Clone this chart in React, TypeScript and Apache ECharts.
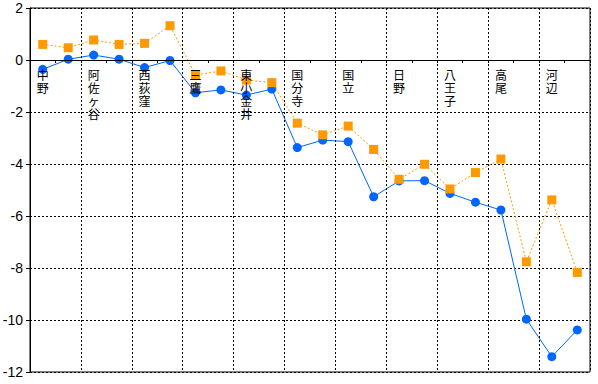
import React, { useEffect, useRef } from "react";
import * as echarts from "echarts";

const categories = [
  "中野", "", "阿佐ヶ谷", "", "西荻窪", "", "三鷹", "", "東小金井", "", "国分寺",
  "", "国立", "", "日野", "", "八王子", "", "高尾", "", "河辺", "",
];
const blueValues = [
  -0.36, 0.03, 0.19, 0.03, -0.29, -0.02, -1.26, -1.15, -1.35, -1.12, -3.37,
  -3.08, -3.14, -5.26, -4.65, -4.64, -5.13, -5.47, -5.77, -9.97, -11.41, -10.38,
];
const orangeValues = [
  0.6, 0.47, 0.77, 0.6, 0.64, 1.32, -0.58, -0.42, -0.77, -0.87, -2.43,
  -2.88, -2.54, -3.44, -4.59, -4.01, -4.96, -4.33, -3.81, -7.76, -5.38, -8.17,
];
const yMin = -12;
const yMax = 2;
const yStep = 2;

const GRID_TOP = 8;
const GRID_BOTTOM = 12;
const H = 384;

export default function App() {
  const ref = useRef<HTMLDivElement>(null);
  useEffect(() => {
    if (!ref.current) return;
    const chart = echarts.init(ref.current, null, { renderer: "svg" });
    const plotH = H - GRID_TOP - GRID_BOTTOM;
    const zeroOffset = -plotH * ((0 - yMin) / (yMax - yMin));
    chart.setOption({
      animation: false,
      backgroundColor: "#ffffff",
      grid: {
        left: 30,
        right: 8,
        top: GRID_TOP,
        bottom: GRID_BOTTOM,
        containLabel: false,
        outerBoundsMode: "none",
        show: true,
        borderColor: "#000",
        borderWidth: 1,
        backgroundColor: "transparent",
      },
      xAxis: {
        type: "category",
        data: categories,
        boundaryGap: true,
        position: "bottom",
        offset: zeroOffset,
        z: 5,
        axisLine: { show: true, onZero: false, lineStyle: { color: "#000", width: 1 } },
        axisTick: { show: true, interval: 0, length: 3, lineStyle: { color: "#000" } },
        axisLabel: {
          interval: 0,
          margin: 8,
          color: "#000",
          fontSize: 12,
          lineHeight: 13,
          fontFamily: "Noto Sans CJK JP",
          verticalAlign: "top",
          formatter: (v: string) => v.split("").join("\n"),
        },
        splitLine: {
          show: true,
          interval: (i: number) => i % 2 === 0,
          lineStyle: { color: "#000", type: [2, 2], width: 1 },
        },
      },
      yAxis: {
        type: "value",
        min: yMin,
        max: yMax,
        interval: yStep,
        axisLine: { show: true, onZero: false, lineStyle: { color: "#000", width: 1 } },
        axisTick: { show: true, length: 4, lineStyle: { color: "#000" } },
        axisLabel: {
          margin: 7,
          color: "#000",
          fontSize: 14,
          fontFamily: "Liberation Sans",
        },
        splitLine: {
          show: true,
          lineStyle: { color: "#000", type: [2, 2], width: 1 },
        },
      },
      series: [
        {
          type: "line",
          data: blueValues,
          symbol: "circle",
          symbolSize: 9,
          lineStyle: { color: "#0066ff", width: 1 },
          itemStyle: { color: "#0066ff" },
          z: 2,
        },
        {
          type: "line",
          data: orangeValues,
          symbol: "rect",
          symbolSize: 9,
          lineStyle: { color: "#ff9900", width: 1, type: [2, 2] },
          itemStyle: { color: "#ff9900" },
          z: 3,
        },
      ],
    });
    return () => chart.dispose();
  }, []);
  return (
    <div
      ref={ref}
      style={{ position: "fixed", left: 0, top: 0, width: 598, height: 384 }}
    />
  );
}
